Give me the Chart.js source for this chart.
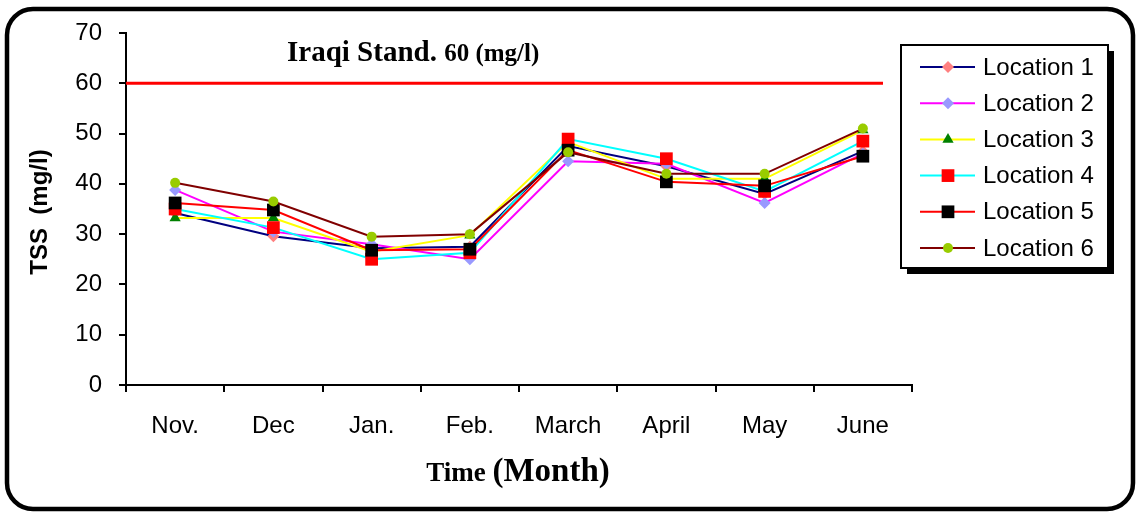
<!DOCTYPE html>
<html>
<head>
<meta charset="utf-8">
<script src="https://cdn.jsdelivr.net/npm/chart.js@4.4.1/dist/chart.umd.min.js"></script>
<style>
  html, body { margin: 0; padding: 0; background: #fff; }
  #wrap { position: relative; width: 1138px; height: 513px; }
</style>
</head>
<body>
<div id="wrap"><canvas id="tss-chart" width="1138" height="513"></canvas></div>
<script>
// TSS (mg/l) per month, six sampling locations
const MONTHS = ['Nov.', 'Dec', 'Jan.', 'Feb.', 'March', 'April', 'May', 'June'];
const LOCATION_1 = [34.2, 29.6, 27.2, 27.5, 47.5, 43.5, 38.0, 46.5];
const LOCATION_2 = [38.8, 30.5, 28.0, 25.0, 44.5, 44.0, 36.2, 46.0];
const LOCATION_3 = [33.2, 33.2, 26.5, 29.8, 48.3, 41.0, 41.0, 50.7];
const LOCATION_4 = [35.0, 31.3, 25.0, 26.3, 48.9, 45.0, 38.5, 48.5];
const LOCATION_5 = [36.2, 34.8, 26.8, 27.0, 46.7, 40.4, 39.6, 45.5];
const LOCATION_6 = [40.2, 36.5, 29.5, 30.0, 46.3, 42.0, 42.0, 51.0];
const SERIES_LABELS = ['Location 1', 'Location 2', 'Location 3', 'Location 4', 'Location 5', 'Location 6'];
const IRAQI_STANDARD = 60;
const Y_MIN = 0, Y_MAX = 70, Y_STEP = 10;

const SANS = "'Liberation Sans', Arial, sans-serif";
const SERIF = "'Liberation Serif', 'Times New Roman', serif";

const STYLES = [
  { line: '#000080', fill: '#FF8080', style: 'rectRot', r: 6 },
  { line: '#FF00FF', fill: '#9999FF', style: 'rectRot', r: 6 },
  { line: '#FFFF00', fill: '#008000', style: 'triangle', r: 6.5 },
  { line: '#00FFFF', fill: '#FF0000', style: 'rect', r: 9 },
  { line: '#FF0000', fill: '#000000', style: 'rect', r: 9 },
  { line: '#800000', fill: '#99CC00', style: 'circle', r: 5 },
];

const seriesData = [LOCATION_1, LOCATION_2, LOCATION_3, LOCATION_4, LOCATION_5, LOCATION_6];

const datasets = seriesData.map((values, i) => ({
  label: SERIES_LABELS[i],
  data: values,
  borderColor: STYLES[i].line,
  borderWidth: 2,
  backgroundColor: STYLES[i].fill,
  pointBackgroundColor: STYLES[i].fill,
  pointBorderColor: STYLES[i].fill,
  pointBorderWidth: 0,
  pointStyle: STYLES[i].style,
  pointRadius: STYLES[i].r,
  tension: 0,
  fill: false,
  order: seriesData.length - i,   // later locations drawn on top
}));

function marker(ctx, st, x, y) {
  if (Chart.helpers && Chart.helpers.drawPoint) {
    ctx.save();
    ctx.fillStyle = st.fill;
    ctx.strokeStyle = st.fill;
    ctx.lineWidth = 0.01;
    Chart.helpers.drawPoint(ctx, { pointStyle: st.style, radius: st.r, rotation: 0, borderWidth: 0 }, x, y);
    ctx.restore();
  }
}

const decorations = {
  id: 'decorations',
  beforeDraw(chart) {
    const ctx = chart.ctx;
    ctx.save();
    ctx.fillStyle = '#fff';
    ctx.fillRect(0, 0, chart.width, chart.height);
    ctx.restore();
  },
  afterDatasetsDraw(chart) {
    const { ctx, chartArea, scales } = chart;
    // standard limit line
    const yStd = scales.y.getPixelForValue(IRAQI_STANDARD);
    ctx.save();
    ctx.strokeStyle = '#FF0000';
    ctx.lineWidth = 3;
    ctx.beginPath();
    ctx.moveTo(chartArea.left, yStd);
    ctx.lineTo(chartArea.right - 29, yStd);
    ctx.stroke();
    ctx.restore();
  },
  afterDraw(chart) {
    const ctx = chart.ctx;
    ctx.save();

    // outer rounded frame
    ctx.strokeStyle = '#000';
    ctx.lineWidth = 4.5;
    ctx.beginPath();
    ctx.roundRect(7, 9, 1126, 500, 26);
    ctx.stroke();

    // standard label
    ctx.fillStyle = '#000';
    ctx.textBaseline = 'alphabetic';
    ctx.textAlign = 'left';
    ctx.font = 'bold 29px ' + SERIF;
    const a = 'Iraqi Stand. ';
    ctx.fillText(a, 287, 61);
    const aw = ctx.measureText(a).width;
    ctx.font = 'bold 25px ' + SERIF;
    ctx.fillText('60 (mg/l)', 287 + aw, 61);

    // x axis title
    ctx.font = 'bold 27px ' + SERIF;
    const t1 = 'Time ';
    const w1 = ctx.measureText(t1).width;
    ctx.font = 'bold 33px ' + SERIF;
    const t2 = '(Month)';
    const w2 = ctx.measureText(t2).width;
    const x0 = 518 - (w1 + w2) / 2;
    ctx.font = 'bold 27px ' + SERIF;
    ctx.fillText(t1, x0, 481);
    ctx.font = 'bold 33px ' + SERIF;
    ctx.fillText(t2, x0 + w1, 481);

    // y axis title
    ctx.save();
    ctx.translate(40, 212);
    ctx.rotate(-Math.PI / 2);
    ctx.textAlign = 'center';
    ctx.textBaseline = 'middle';
    ctx.font = 'bold 24px ' + SANS;
    ctx.fillText('TSS  (mg/l)', 0, 0);
    ctx.restore();

    // legend box with shadow
    const lx = 901, ly = 45, lw = 207, lh = 223;
    ctx.fillStyle = '#000';
    ctx.fillRect(lx + 6, ly + 6, lw, lh);
    ctx.fillStyle = '#fff';
    ctx.fillRect(lx, ly, lw, lh);
    ctx.strokeStyle = '#000';
    ctx.lineWidth = 2;
    ctx.strokeRect(lx, ly, lw, lh);

    ctx.font = '24px ' + SANS;
    ctx.textAlign = 'left';
    ctx.textBaseline = 'middle';
    SERIES_LABELS.forEach((label, i) => {
      const y = 67 + i * 36.2;
      ctx.strokeStyle = STYLES[i].line;
      ctx.lineWidth = 2;
      ctx.beginPath();
      ctx.moveTo(920, y);
      ctx.lineTo(975, y);
      ctx.stroke();
      marker(ctx, STYLES[i], 948, y);
      ctx.fillStyle = '#000';
      ctx.fillText(label, 983, y + 1);
    });

    ctx.restore();
  }
};

new Chart(document.getElementById('tss-chart'), {
  type: 'line',
  data: { labels: MONTHS, datasets },
  plugins: [decorations],
  options: {
    responsive: false,
    animation: false,
    layout: { padding: { left: 0, top: 33, right: 1138 - 912, bottom: 0 } },
    plugins: {
      legend: { display: false },
      tooltip: { enabled: false },
    },
    scales: {
      x: {
        offset: true,
        afterFit: (scale) => { scale.height = 513 - 385; },
        grid: {
          offset: true,
          drawOnChartArea: false,
          drawTicks: true,
          tickLength: 7,
          color: '#000',
          lineWidth: 2,
        },
        border: { color: '#000', width: 2 },
        ticks: {
          color: '#000',
          padding: 20,
          maxRotation: 0,
          font: { family: SANS, size: 24 },
        },
      },
      y: {
        min: Y_MIN,
        max: Y_MAX,
        afterFit: (scale) => { scale.width = 126; },
        grid: {
          drawOnChartArea: false,
          drawTicks: true,
          tickLength: 7,
          color: '#000',
          lineWidth: 2,
        },
        border: { color: '#000', width: 2 },
        ticks: {
          stepSize: Y_STEP,
          color: '#000',
          padding: 17,
          font: { family: SANS, size: 24 },
        },
      },
    },
  },
});
</script>
</body>
</html>
